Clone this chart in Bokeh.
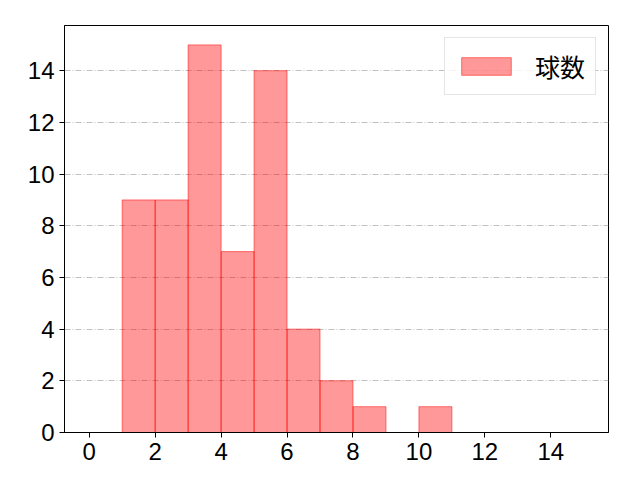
from bokeh.plotting import figure
from bokeh.models import ColumnDataSource, Range1d, FixedTicker
from bokeh.embed import file_html
from bokeh.resources import INLINE

# histogram bins (left/right edges) and counts
bin_left = [1, 2, 3, 4, 5, 6, 7, 8, 9, 10]
bin_right = [2, 3, 4, 5, 6, 7, 8, 9, 10, 11]
counts = [9, 9, 15, 7, 14, 4, 2, 1, 0, 1]
x_ticks = [0, 2, 4, 6, 8, 10, 12, 14]
y_ticks = [0, 2, 4, 6, 8, 10, 12, 14]
series_name = "球数"

FONT = "Noto Sans CJK JP"
TICK_FONT = "Liberation Sans"

keep = [i for i, c in enumerate(counts) if c > 0]
src = ColumnDataSource(dict(
    left=[bin_left[i] for i in keep],
    right=[bin_right[i] for i in keep],
    top=[counts[i] for i in keep],
    bottom=[0] * len(keep),
))

p = figure(width=640, height=480, output_backend="svg", toolbar_location=None,
           x_range=Range1d(-0.75, 15.75), y_range=Range1d(0, 15.75),
           min_border_left=64, min_border_right=32, min_border_top=25, min_border_bottom=48)

p.quad(left="left", right="right", top="top", bottom="bottom", source=src,
       fill_color="red", fill_alpha=0.4, line_color="red", line_alpha=0.5, line_width=1,
       legend_label=series_name)

p.outline_line_color = "black"
p.outline_line_width = 1
p.outline_line_alpha = 1

p.xgrid.grid_line_color = None
p.ygrid.grid_line_color = "#b0b0b0"
p.ygrid.grid_line_dash = "6 2 1 2"
p.ygrid.grid_line_width = 0.8

p.xaxis.ticker = FixedTicker(ticks=x_ticks)
p.yaxis.ticker = FixedTicker(ticks=y_ticks)
for ax in (p.xaxis, p.yaxis):
    ax.minor_tick_line_color = None
    ax.major_tick_in = 0
    ax.major_tick_out = 5
    ax.major_tick_line_color = "black"
    ax.axis_line_color = "black"
    ax.major_label_text_font = TICK_FONT
    ax.major_label_text_font_size = "24px"
    ax.major_label_text_color = "black"
    ax.major_label_standoff = 5

p.legend.location = "top_right"
p.legend.margin = 12
p.legend.padding = 10
p.legend.spacing = 0
p.legend.label_text_font = FONT
p.legend.label_text_font_size = "25px"
p.legend.label_text_color = "black"
p.legend.glyph_width = 62
p.legend.glyph_height = 22
p.legend.label_standoff = 18
p.legend.border_line_color = "#cccccc"
p.legend.border_line_width = 1
p.legend.background_fill_alpha = 0.8

open("out.html", "w").write(file_html(p, INLINE))
